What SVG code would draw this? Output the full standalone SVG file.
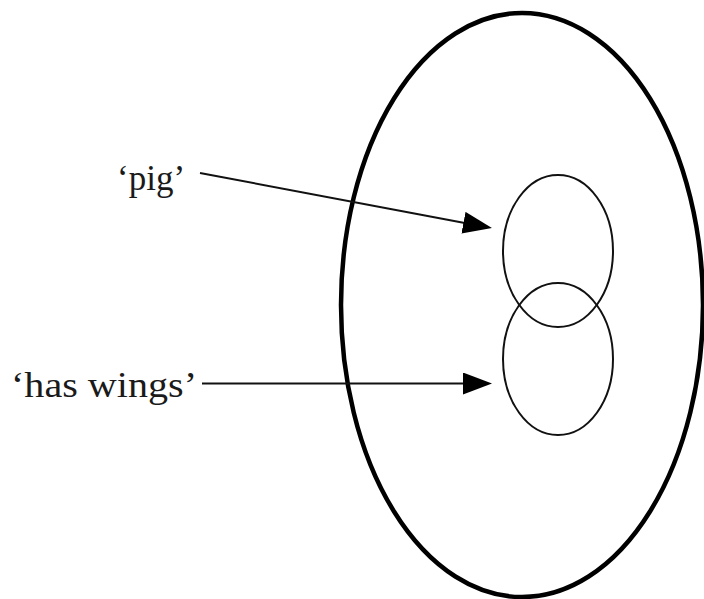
<svg xmlns="http://www.w3.org/2000/svg" width="704" height="599" viewBox="0 0 704 599">
<style>
.lbl{font-family:'Liberation Serif','Times New Roman',Tinos,'Nimbus Roman',Times,serif;font-size:35px;fill:#1a1a1a}
.set{fill:none;stroke:#111;stroke-width:2}
.conn{stroke:#111;stroke-width:2;fill:none}
</style>
<defs>
<marker id="ah" markerUnits="userSpaceOnUse" markerWidth="30" markerHeight="24" refX="4" refY="11" orient="auto">
<path d="M0,0 L29,11 L0,22 Z" fill="#000"/>
</marker>
</defs>
<rect width="704" height="599" fill="#fff"/>
<g id="universe">
<ellipse cx="522" cy="305" rx="181" ry="292" fill="none" stroke="#000" stroke-width="4.5"/>
</g>
<g id="pig-set">
<ellipse class="set" cx="558" cy="251" rx="55" ry="76"/>
</g>
<g id="wings-set">
<ellipse class="set" cx="558" cy="359" rx="55" ry="76"/>
</g>
<g id="label-pig">
<text class="lbl" x="117" y="190" font-family="Liberation Serif, serif" font-size="36">‘pig’</text>
</g>
<g id="label-wings">
<text class="lbl" x="11" y="397" font-family="Liberation Serif, serif" font-size="37" textLength="186" lengthAdjust="spacingAndGlyphs">‘has wings’</text>
</g>
<g id="connectors">
<line class="conn" x1="200" y1="173" x2="467.4" y2="223.4" marker-end="url(#ah)"/>
<line class="conn" x1="202" y1="383.5" x2="467" y2="383.5" marker-end="url(#ah)"/>
</g>
</svg>
